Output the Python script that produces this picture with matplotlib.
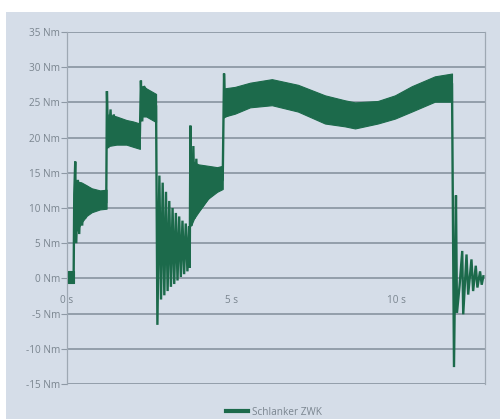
import matplotlib
matplotlib.use("Agg")
import matplotlib.pyplot as plt
from matplotlib.patches import Rectangle
import numpy as np

# ---------------- data ----------------
y_ticks = [-15, -10, -5, 0, 5, 10, 15, 20, 25, 30, 35]
y_tick_labels = ["-15 Nm", "-10 Nm", "-5 Nm", "0 Nm", "5 Nm", "10 Nm",
                 "15 Nm", "20 Nm", "25 Nm", "30 Nm", "35 Nm"]
x_ticks = [0, 5, 10]
x_tick_labels = ["0 s", "5 s", "10 s"]
series_name = "Schlanker ZWK"

# continuous trace through spikes and transients (time in s, torque in Nm)
trace_t = [0.20, 0.22, 0.25, 0.28, 0.33, 0.37, 0.42, 0.46, 0.51, 0.55, 0.60,
           1.19, 1.21, 1.25, 1.32, 1.36, 1.42, 1.46, 1.55,
           2.21, 2.24, 2.28, 2.33,
           2.70, 2.74, 2.80, 2.85, 2.90, 2.95, 3.00, 3.05, 3.10, 3.15, 3.20,
           3.25, 3.30, 3.35, 3.40, 3.45, 3.50, 3.55, 3.60, 3.65, 3.70, 3.72,
           3.74, 3.78, 3.83, 3.87, 3.92, 3.96,
           4.72, 4.76, 4.80, 6.20, 8.70,
           11.67, 11.73, 11.79, 11.82, 11.90, 11.98, 12.01, 12.11, 12.16,
           12.26, 12.31, 12.39, 12.44, 12.52, 12.57, 12.62]
trace_v = [-0.5, 12.0, 16.6, 5.0, 14.0, 6.3, 13.6, 7.5, 13.3, 8.5, 13.0,
           11.0, 26.6, 18.5, 24.0, 19.0, 23.3, 19.0, 22.5,
           20.5, 28.1, 22.3, 27.3,
           24.5, -6.6, 14.6, -3.0, 13.6, -2.4, 12.3, -1.8, 11.0, -1.2, 10.0,
           -0.8, 9.3, -0.3, 8.8, 0.2, 8.2, 0.6, 7.8, 1.0, 7.4, 1.5,
           21.7, 7.5, 18.8, 8.5, 17.0, 9.4,
           14.0, 29.1, 23.0, 26.5, 23.2,
           27.5, -12.6, 11.8, -4.9, -1.0, 3.9, -5.1, 3.4, -2.3,
           2.7, -1.8, 1.8, -1.3, 1.0, -0.9, 0.3]

# envelopes of the dense oscillation bands
band0_t = [0.02, 0.20]
band0_hi = [1.0, 1.0]
band0_lo = [-0.7, -0.7]

band1_t = [0.30, 0.45, 0.60, 0.75, 1.00, 1.20]
band1_hi = [13.8, 13.6, 13.2, 12.8, 12.5, 12.6]
band1_lo = [6.8, 8.0, 8.9, 9.4, 9.8, 9.9]

band2_t = [1.25, 1.50, 1.80, 2.00, 2.21]
band2_hi = [23.3, 23.0, 22.5, 22.3, 22.0]
band2_lo = [18.8, 19.0, 19.0, 18.7, 18.4]

band3_t = [2.27, 2.40, 2.55, 2.70]
band3_hi = [27.3, 27.0, 26.6, 26.2]
band3_lo = [23.0, 23.0, 22.6, 22.2]

band4_t = [3.76, 3.85, 3.98, 4.27, 4.55, 4.72]
band4_hi = [17.0, 16.5, 16.2, 16.0, 15.8, 16.0]
band4_lo = [7.5, 8.5, 9.4, 11.3, 12.3, 12.7]

band5_t = [4.78, 5.09, 5.55, 6.21, 7.00, 7.82, 8.42, 8.73, 9.42, 9.94,
           10.45, 11.15, 11.67]
band5_hi = [27.0, 27.2, 27.8, 28.3, 27.5, 26.0, 25.3, 25.0, 25.2, 26.0,
            27.3, 28.7, 29.1]
band5_lo = [23.0, 23.4, 24.3, 24.6, 23.7, 22.0, 21.6, 21.3, 22.0, 22.7,
            23.7, 25.1, 25.1]

# ---------------- style ----------------
GREEN = "#1c6a4b"
PANEL = "#d5dde8"
GRID = "#8e99a5"
TEXT = "#7a858f"
plt.rcParams["font.family"] = ["Open Sans", "DejaVu Sans"]

W, H = 500, 419
fig = plt.figure(figsize=(W / 100, H / 100), dpi=100)
fig.patch.set_facecolor("white")
fig.patches.append(Rectangle((6 / W, 0), 1 - 6 / W, 1 - 12 / H,
                             transform=fig.transFigure, facecolor=PANEL,
                             edgecolor="none", zorder=-10))

left, right = 67 / W, 485 / W
top, bottom = 1 - 32 / H, 1 - 384 / H
ax = fig.add_axes([left, bottom, right - left, top - bottom])
ax.set_facecolor("none")

bands = [(band0_t, band0_hi, band0_lo), (band1_t, band1_hi, band1_lo),
         (band2_t, band2_hi, band2_lo), (band3_t, band3_hi, band3_lo),
         (band4_t, band4_hi, band4_lo), (band5_t, band5_hi, band5_lo)]
for bt, bh, bl in bands:
    ax.fill_between(bt, bl, bh, color=GREEN, linewidth=0.8, edgecolor=GREEN,
                    zorder=3)
ax.plot(trace_t, trace_v, color=GREEN, linewidth=1.7, zorder=4,
        solid_joinstyle="miter", label=series_name)

ax.set_xlim(0, 12.67)
ax.set_ylim(-15, 35)
ax.set_yticks(y_ticks)
ax.set_yticklabels(y_tick_labels)
ax.set_xticks([])
for y in y_ticks:
    ax.axhline(y, color=GRID, linewidth=1.3, zorder=1)

for s in ["top", "bottom"]:
    ax.spines[s].set_visible(False)
for s in ["left", "right"]:
    ax.spines[s].set_color("#9ea8b3")
    ax.spines[s].set_linewidth(0.9)

ax.tick_params(axis="y", length=4, width=0.8, color=GRID, pad=1,
               labelsize=7.2, labelcolor=TEXT)

sec = ax.secondary_xaxis(0.3)
sec.set_xticks(x_ticks)
sec.set_xticklabels(x_tick_labels)
sec.tick_params(axis="x", length=0, pad=12, labelsize=7.2, labelcolor=TEXT)
sec.spines["bottom"].set_visible(False)

leg = fig.legend(loc="center", bbox_to_anchor=(273.5 / W, 1 - 412 / H),
                 frameon=False, fontsize=7.2, handlelength=2.2,
                 handletextpad=0.4, labelcolor=TEXT)
for line in leg.get_lines():
    line.set_linewidth(3)

fig.savefig("out.png", dpi=100)
